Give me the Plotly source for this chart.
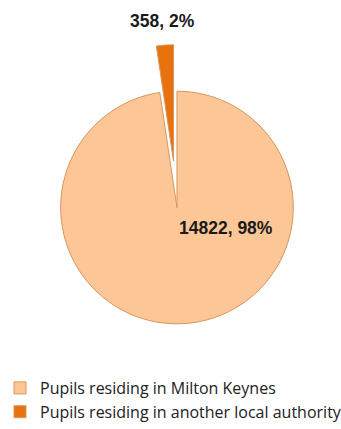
import plotly.graph_objects as go

labels = ["Pupils residing in Milton Keynes", "Pupils residing in another local authority"]
values = [14822, 358]
colors = ["#FDC697", "#E8730E"]

W, H = 341, 429
cx, cy, r, pull = 176, 208, 117, 0.4
side = 2 * r * (1 + pull)
dx = [max((cx - side / 2) / W, 0), min((cx + side / 2) / W, 1)]
dy = [(H - (cy + side / 2)) / H, (H - (cy - side / 2)) / H]

total = sum(values)
texts = [f"{v}, {round(100 * v / total)}%" for v in values]

fig = go.Figure(go.Pie(
    labels=labels,
    values=values,
    sort=False,
    direction="clockwise",
    rotation=0,
    pull=[0, pull],
    textinfo="none",
    hoverinfo="label+value+percent",
    marker=dict(colors=colors, line=dict(color="#D9955C", width=1)),
    domain=dict(x=dx, y=dy),
))

lab_font = dict(family="Liberation Sans, Arial", size=17.5, color="#1a1a1a", weight="bold")
fig.add_annotation(x=225 / W, y=1 - 229 / H, xref="paper", yref="paper",
                   xanchor="center", yanchor="middle",
                   text=texts[0], showarrow=False, font=lab_font)
fig.add_annotation(x=161 / W, y=1 - 21 / H, xref="paper", yref="paper",
                   xanchor="center", yanchor="middle",
                   text=texts[1], showarrow=False, font=lab_font)

fig.update_layout(
    width=W, height=H,
    margin=dict(l=0, r=0, t=0, b=0),
    paper_bgcolor="white",
    plot_bgcolor="white",
    showlegend=True,
    legend=dict(x=-2 / W, y=1 - 372 / H, xanchor="left", yanchor="top",
                font=dict(family="Open Sans", size=16, color="#222222"),
                itemwidth=30, bgcolor="rgba(0,0,0,0)"),
)

fig.write_html("out.html", config={"displayModeBar": False},
               post_script="document.body.style.margin='0';")
